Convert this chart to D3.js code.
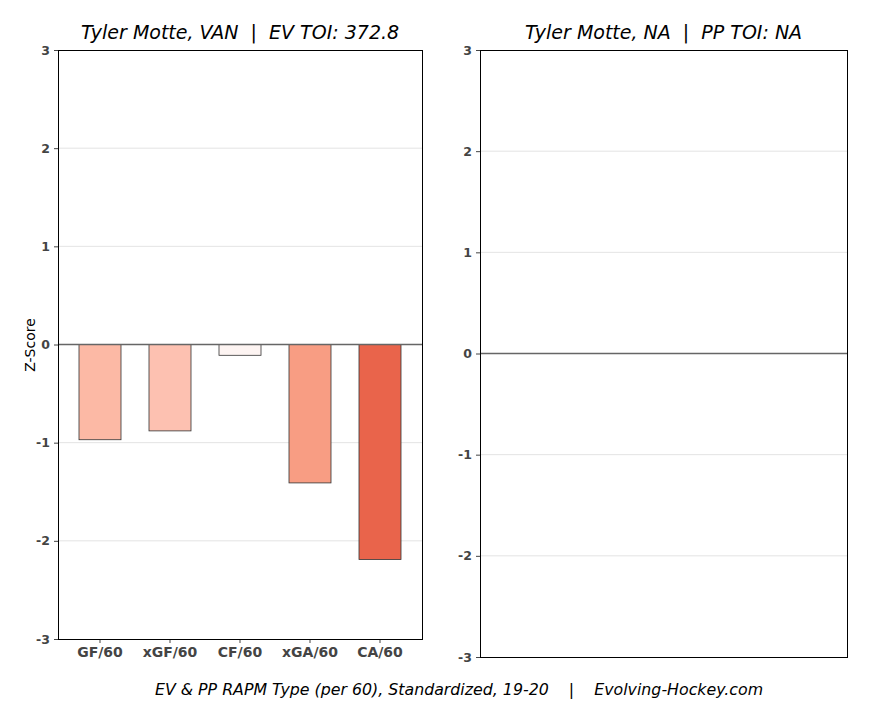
<!DOCTYPE html>
<html>
<head>
<meta charset="utf-8">
<script src="https://cdn.jsdelivr.net/npm/d3@7"></script>
<style>
  body { margin: 0; background: #fff; }
  text { font-family: "DejaVu Sans", sans-serif; white-space: pre; }
  .tick text { font-weight: bold; fill: #444; font-size: 12.5px; }
</style>
</head>
<body>
<div id="chart-area"></div>
<script>
var categories = ["GF/60", "xGF/60", "CF/60", "xGA/60", "CA/60"];
var evValues = [-0.97, -0.88, -0.11, -1.41, -2.19];
var barColors = ["#fcb9a5", "#fdc1b1", "#fdf4f2", "#f89d83", "#e9644b"];
var yTicks = [-3, -2, -1, 0, 1, 2, 3];

var svg = d3.select("#chart-area")
    .append("svg")
        .attr("width", 883)
        .attr("height", 714);

function panel(left, top, w, h, title, withBars) {
    var g = svg.append("g")
        .attr("transform", "translate(" + left + ", " + top + ")");

    var y = d3.scaleLinear().domain([-3, 3]).range([h, 0]);

    // grid
    g.selectAll("line.grid")
        .data(yTicks.filter(function(d){ return d !== 0 && Math.abs(d) !== 3; }))
        .enter().append("line")
        .attr("class", "grid")
        .attr("x1", 0).attr("x2", w)
        .attr("y1", function(d){ return y(d); })
        .attr("y2", function(d){ return y(d); })
        .attr("stroke", "#dcdcdc")
        .attr("stroke-width", 0.8);

    var yAxis = d3.axisLeft(y).tickValues(yTicks).tickSize(4).tickPadding(4)
        .tickFormat(function(d){ return String(d); });
    var yg = g.append("g").call(yAxis);
    yg.select(".domain").remove();
    yg.selectAll(".tick line").attr("stroke", "#444");

    if (withBars) {
        var x = d3.scaleBand()
            .domain(categories)
            .range([0, w])
            .paddingInner(0.4)
            .paddingOuter(0.3);

        g.selectAll("rect.bar")
            .data(evValues)
            .enter().append("rect")
            .attr("class", "bar")
            .attr("x", function(d, i){ return x(categories[i]); })
            .attr("width", x.bandwidth())
            .attr("y", function(d){ return y(Math.max(0, d)); })
            .attr("height", function(d){ return Math.abs(y(d) - y(0)); })
            .attr("fill", function(d, i){ return barColors[i]; })
            .attr("stroke", "#333")
            .attr("stroke-width", 0.8);

        var xg = g.append("g")
            .attr("transform", "translate(0," + h + ")")
            .call(d3.axisBottom(x).tickSize(4).tickPadding(4));
        xg.select(".domain").remove();
        xg.selectAll(".tick text").style("font-size", "14px");
        xg.selectAll(".tick line").attr("stroke", "#444");
    }

    // zero line
    g.append("line")
        .attr("x1", 0).attr("x2", w)
        .attr("y1", y(0)).attr("y2", y(0))
        .attr("stroke", "#666")
        .attr("stroke-width", 1.5);

    // frame
    g.append("rect")
        .attr("x", 0.5).attr("y", 0.5)
        .attr("width", w).attr("height", h)
        .attr("fill", "none")
        .attr("stroke", "#000")
        .attr("stroke-width", 1);

    g.append("text")
        .attr("x", w / 2)
        .attr("y", -11)
        .attr("text-anchor", "middle")
        .attr("font-size", "19px")
        .attr("font-style", "italic")
        .text(title);

    return g;
}

var left = panel(58, 50, 364, 589, "Tyler Motte, VAN  |  EV TOI: 372.8", true);
panel(480, 50, 367, 607, "Tyler Motte, NA  |  PP TOI: NA", false);

// Y Label
left.append("text")
    .attr("transform", "rotate(-90)")
    .attr("x", -(295))
    .attr("y", -23)
    .attr("text-anchor", "middle")
    .attr("font-size", "14px")
    .text("Z-Score");

svg.append("text")
    .attr("x", 459)
    .attr("y", 695)
    .attr("text-anchor", "middle")
    .attr("font-size", "15.8px")
    .attr("font-style", "italic")
    .text("EV & PP RAPM Type (per 60), Standardized, 19-20    |    Evolving-Hockey.com");
</script>
</body>
</html>
